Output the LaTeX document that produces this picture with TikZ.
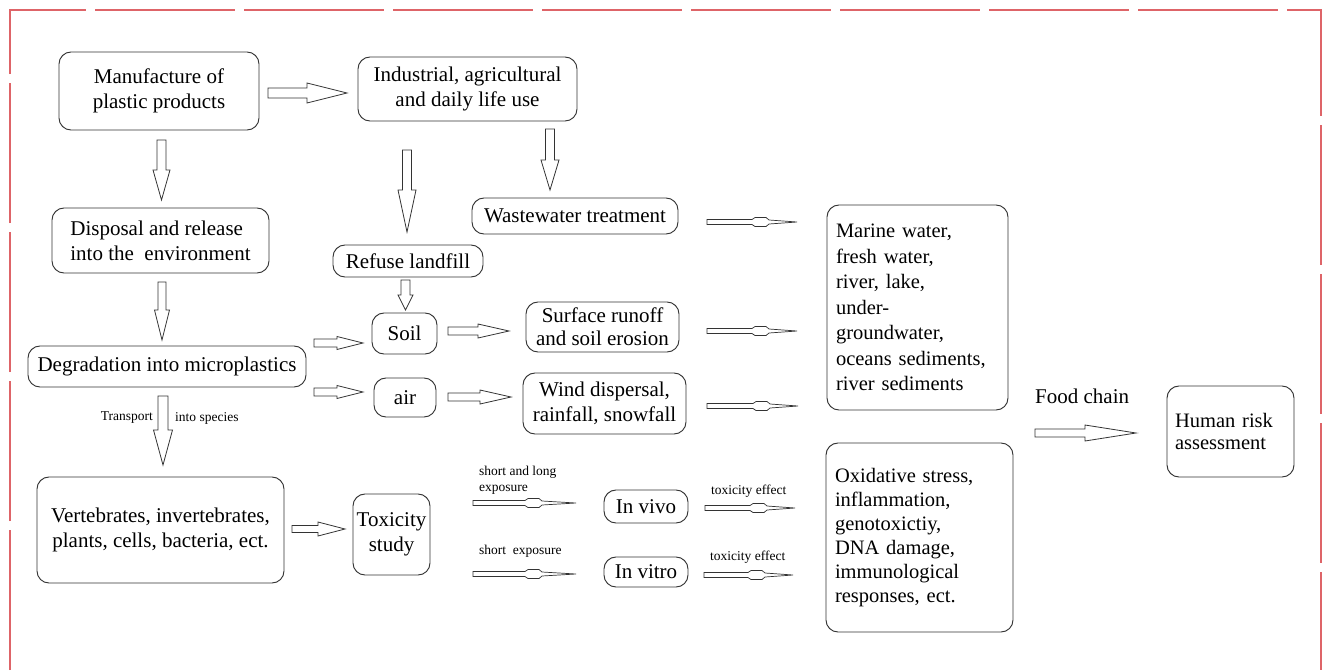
\documentclass[tikz,border=0pt]{standalone}
\usepackage{fontspec}
\setmainfont{Liberation Serif}
\usetikzlibrary{calc}
\definecolor{framered}{RGB}{222,100,104}
\newcommand\mainsz{\fontsize{21}{25}\selectfont}
\newcommand\smallsz{\fontsize{13.5}{16}\selectfont}
\tikzset{
  box/.style={draw=black!80, line width=0.95pt, rounded corners=12pt, inner sep=0pt, align=center, font=\mainsz, text=black},
  lbox/.style={box, align=left},
  lbl/.style={inner sep=0pt, font=\smallsz, text=black},
  barrow/.style={draw=black!80, line width=0.8pt, fill=white, line join=miter},
  tarrow/.style={draw=black!80, line width=0.7pt, fill=white},
}
% horizontal hollow block arrow: start, end, shaft half-width, head half-width, head length
\newcommand\harr[5]{\draw[barrow] let \p1=(#1),\p2=(#2) in
  (\x1,\y1+#3pt) -- (\x2-#5pt,\y1+#3pt) -- (\x2-#5pt,\y1+#4pt) -- (\x2,\y1)
  -- (\x2-#5pt,\y1-#4pt) -- (\x2-#5pt,\y1-#3pt) -- (\x1,\y1-#3pt) -- cycle;}
% vertical (downward) hollow block arrow
\newcommand\varr[5]{\draw[barrow] let \p1=(#1),\p2=(#2) in
  (\x1-#3pt,\y1) -- (\x1-#3pt,\y2+#5pt) -- (\x1-#4pt,\y2+#5pt) -- (\x1,\y2)
  -- (\x1+#4pt,\y2+#5pt) -- (\x1+#3pt,\y2+#5pt) -- (\x1+#3pt,\y1) -- cycle;}
% thin arrow with small bump: start, end, distance of bump from tip
\newcommand\tarr[3]{\draw[tarrow] let \p1=(#1),\p2=(#2) in
  (\x1,\y1+2.5pt) -- (\x2-#3pt,\y1+2.5pt) -- (\x2-#3pt+3pt,\y1+4.5pt) -- (\x2-#3pt+14pt,\y1+4.5pt)
  -- (\x2-#3pt+17pt,\y1+2pt) -- (\x2,\y1) -- (\x2-#3pt+17pt,\y1-2pt) -- (\x2-#3pt+14pt,\y1-4.5pt)
  -- (\x2-#3pt+3pt,\y1-4.5pt) -- (\x2-#3pt,\y1-2.5pt) -- (\x1,\y1-2.5pt) -- cycle;}
\begin{document}
\begin{tikzpicture}[x=1pt,y=-1pt]
\useasboundingbox (0,0) rectangle (1322,670);
\fill[white] (0,0) rectangle (1322,670);
% frame
\draw[framered, line width=1.3pt, dash pattern=on 140pt off 9pt] (10,670) -- (10,10) -- (1321,10) -- (1321,670);

% nodes
\node[box, minimum width=200pt, minimum height=78pt] (mfg) at (159,91) {Manufacture of\\plastic products};
\node[box, minimum width=219pt, minimum height=64pt] (ind) at (467.5,89) {Industrial, agricultural\\and daily life use};
\node[lbox, minimum width=217pt, minimum height=65pt] (disp) at (160.5,240.5) {Disposal and release\\into the\ \ environment};
\node[box, minimum width=278pt, minimum height=41pt] (deg) at (167,366.5) {Degradation into microplastics};
\node[box, minimum width=247pt, minimum height=106pt] (vert) at (160.5,530) {Vertebrates, invertebrates,\\plants, cells, bacteria, ect.};
\node[box, minimum width=77pt, minimum height=81pt] (tox) at (391.5,534.5) {Toxicity\\study};
\node[box, minimum width=150pt, minimum height=32pt] (refuse) at (408,261) {Refuse landfill};
\node[box, minimum width=206pt, minimum height=36pt] (waste) at (575,216) {Wastewater treatment};
\node[box, minimum width=65pt, minimum height=41pt] (soil) at (404.5,333.5) {Soil};
\node[box, minimum width=62pt, minimum height=39pt] (air) at (405,397.5) {air};
\node[box, minimum width=153pt, minimum height=50pt, font=\fontsize{21}{23}\selectfont] (surf) at (602.5,327) {Surface runoff\\and soil erosion};
\node[box, minimum width=163pt, minimum height=61pt] (wind) at (604.5,403.5) {Wind dispersal,\\rainfall, snowfall};
\node[lbox, minimum width=181pt, minimum height=205pt, inner xsep=9pt, text width=163pt, font=\fontsize{20.5}{25.5}\selectfont] (marine) at (917.5,307.5) {Marine water,\\fresh water,\\river, lake,\\under-\\groundwater,\\oceans sediments,\\river sediments};
\node[lbox, minimum width=187pt, minimum height=189pt, inner xsep=9pt, text width=169pt, font=\fontsize{20.5}{24}\selectfont] (oxid) at (919.5,537.5) {Oxidative stress,\\inflammation,\\genotoxictiy,\\DNA damage,\\immunological\\responses, ect.};
\node[box, minimum width=84pt, minimum height=33pt] (vivo) at (646,506.5) {In vivo};
\node[box, minimum width=84pt, minimum height=30pt] (vitro) at (646,572) {In vitro};
\node[lbox, minimum width=127pt, minimum height=91pt, inner xsep=8pt, text width=111pt, font=\fontsize{20.5}{22.5}\selectfont] (human) at (1230.5,431.5) {Human risk\\assessment};

% labels
\node[lbl, anchor=west, font=\fontsize{21}{24}\selectfont] (foodlbl) at (1035,396) {Food chain};
\node[lbl, anchor=east] (trlbl) at (153,418) {Transport};
\node[lbl, anchor=west] (splbl) at (175,418) {into species};
\node[lbl, anchor=west, align=left] (exp1) at (479,480) {short and long\\exposure};
\node[lbl, anchor=west] (exp2) at (479,551) {short\ \ exposure};
\node[lbl, anchor=west] (tox1) at (711,491) {toxicity effect};
\node[lbl, anchor=west] (tox2) at (710,557) {toxicity effect};

% arrow end points
\coordinate (a1s) at (268,93);    \coordinate (a1e) at (347,93);
\coordinate (a2s) at (161.5,140); \coordinate (a2e) at (161.5,200);
\coordinate (a3s) at (162,282);   \coordinate (a3e) at (162,340);
\coordinate (a4s) at (163,396);   \coordinate (a4e) at (163,465);
\coordinate (a5s) at (407,150);   \coordinate (a5e) at (407,232);
\coordinate (a6s) at (550,129);   \coordinate (a6e) at (550,190);
\coordinate (a7s) at (405.5,280); \coordinate (a7e) at (405.5,310);
\coordinate (a8s) at (314,343);   \coordinate (a8e) at (363,343);
\coordinate (a9s) at (314,392);   \coordinate (a9e) at (363,392);
\coordinate (a10s) at (448,331);  \coordinate (a10e) at (509,331);
\coordinate (a11s) at (448,397);  \coordinate (a11e) at (511,397);
\coordinate (a12s) at (292,529);  \coordinate (a12e) at (345,529);
\coordinate (a13s) at (1035,433); \coordinate (a13e) at (1136,433);
\coordinate (t1s) at (707,222);   \coordinate (t1e) at (797,222);
\coordinate (t2s) at (707,331);   \coordinate (t2e) at (797,331);
\coordinate (t3s) at (707,406);   \coordinate (t3e) at (798,406);
\coordinate (t4s) at (473,503);   \coordinate (t4e) at (576,503);
\coordinate (t5s) at (473,574);   \coordinate (t5e) at (576,574);
\coordinate (t6s) at (705,508);   \coordinate (t6e) at (795,508);
\coordinate (t7s) at (704,575);   \coordinate (t7e) at (793,575);

% block arrows
\harr{a1s}{a1e}{5}{10}{40}
\varr{a2s}{a2e}{4.5}{8.5}{30}
\varr{a3s}{a3e}{4}{7.5}{30}
\varr{a4s}{a4e}{5}{9.5}{35}
\varr{a5s}{a5e}{4.5}{9}{42}
\varr{a6s}{a6e}{4.5}{9}{30}
\varr{a7s}{a7e}{4.5}{7.5}{15}
\harr{a8s}{a8e}{4}{6.5}{26}
\harr{a9s}{a9e}{4}{6.5}{26}
\harr{a10s}{a10e}{4}{7}{31}
\harr{a11s}{a11e}{4}{7}{31}
\harr{a12s}{a12e}{3.5}{7}{27}
\harr{a13s}{a13e}{4}{8}{51}

% thin arrows
\tarr{t1s}{t1e}{45}
\tarr{t2s}{t2e}{45}
\tarr{t3s}{t3e}{45}
\tarr{t4s}{t4e}{51}
\tarr{t5s}{t5e}{51}
\tarr{t6s}{t6e}{45}
\tarr{t7s}{t7e}{45}
\end{tikzpicture}
\end{document}
